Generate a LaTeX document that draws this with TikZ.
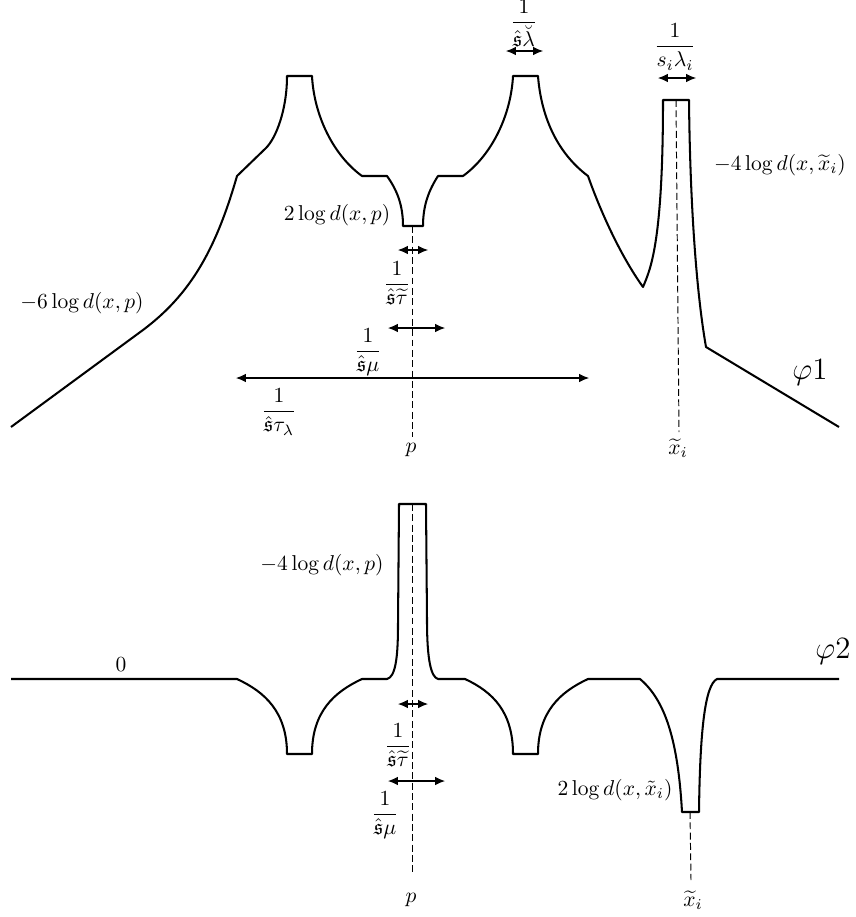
\documentclass[tikz,border=0pt]{standalone}
\usepackage{amsmath,amssymb}
\usetikzlibrary{arrows.meta}
\tikzset{
  curve/.style={line width=0.95pt, line join=round},
  dim/.style={line width=0.5pt, {Latex[length=4.6pt,width=4pt]}-{Latex[length=4.6pt,width=4pt]}},
  guide/.style={line width=0.45pt, dash pattern=on 3.2pt off 1.6pt},
  lab/.style={inner sep=0pt},
  big/.style={inner sep=0pt, font=\fontsize{15.6}{18}\selectfont}
}
\begin{document}
\begin{tikzpicture}[x=0.465pt,y=-0.465pt]
\useasboundingbox (0,0) rectangle (855,917);

% ---------- phi_1 ----------
\draw[curve] (11,427) -- (143,330)
 .. controls (191,294) and (216,249) .. (237,176)
 -- (266,148)
 .. controls (276,138) and (287,110) .. (287,76)
 -- (312,76)
 .. controls (314,115) and (333,155) .. (362,176)
 -- (387,176)
 .. controls (397,190) and (403,205) .. (403,226)
 -- (423,226)
 .. controls (423,205) and (429,190) .. (438,176)
 -- (463,176)
 .. controls (492,155) and (511,115) .. (513,76)
 -- (538,76)
 .. controls (541,115) and (556,152) .. (588,176)
 .. controls (600,210) and (620,255) .. (643,287)
 .. controls (650,270) and (663,245) .. (663,100)
 -- (689,100)
 .. controls (690,200) and (696,290) .. (706,347)
 -- (839,427);

\coordinate (p1top) at (412,226);
\coordinate (p1bot) at (412,437);
\coordinate (x1top) at (676,100);
\coordinate (x1bot) at (679,432);
\draw[guide] (p1top) -- (p1bot);
\draw[guide] (x1top) -- (x1bot);

\coordinate (a1l) at (398,250); \coordinate (a1r) at (428,250);
\coordinate (a2l) at (388,328); \coordinate (a2r) at (445,328);
\coordinate (a3l) at (236,378); \coordinate (a3r) at (589,378);
\coordinate (a4l) at (506,51);  \coordinate (a4r) at (543,51);
\coordinate (a5l) at (658,78);  \coordinate (a5r) at (696,78);
\draw[dim] (a1l) -- (a1r);
\draw[dim] (a2l) -- (a2r);
\draw[dim] (a3l) -- (a3r);
\draw[dim] (a4l) -- (a4r);
\draw[dim] (a5l) -- (a5r);

\node[lab] (l6) at (82,303) {$-6\log d(x,p)$};
\node[lab] (l2) at (337,215) {$2\log d(x,p)$};
\node[lab] (ftt) at (397,283) {$\dfrac{1}{\hat{\mathfrak{s}}\widetilde{\tau}}$};
\node[lab] (fmu) at (368,352) {$\dfrac{1}{\hat{\mathfrak{s}}\mu}$};
\node[lab] (ftl) at (279,412) {$\dfrac{1}{\hat{\mathfrak{s}}\tau_\lambda}$};
\node[lab] (p1) at (411,450) {$p$};
\node[lab] (flb) at (524,23) {$\dfrac{1}{\hat{\mathfrak{s}}\breve{\lambda}}$};
\node[lab] (fsl) at (675,47) {$\dfrac{1}{s_i\lambda_i}$};
\node[lab] (l4) at (780,165) {$-4\log d(x,\widetilde{x}_i)$};
\node[big] (phi1) at (810,373) {$\varphi1$};
\node[lab] (x1) at (678,448) {$\widetilde{x}_i$};

% ---------- phi_2 ----------
\draw[curve] (11,679) -- (237,679)
 .. controls (265,692) and (287,712) .. (287,754)
 -- (312,754)
 .. controls (312,712) and (334,692) .. (362,679)
 -- (387,679)
 .. controls (395,677) and (398,660) .. (398,625)
 -- (399,504)
 -- (426,504)
 -- (427,620)
 .. controls (427,660) and (431,677) .. (438,679)
 -- (465,679)
 .. controls (493,692) and (513,712) .. (513,754)
 -- (538,754)
 .. controls (538,712) and (560,692) .. (588,679)
 -- (640,679)
 .. controls (665,700) and (678,740) .. (682,812)
 -- (699,812)
 .. controls (700,730) and (705,685) .. (717,679)
 -- (839,679);

\coordinate (p2top) at (412,504);
\coordinate (p2bot) at (412,875);
\coordinate (x2top) at (690,812);
\coordinate (x2bot) at (691,880);
\draw[guide] (p2top) -- (p2bot);
\draw[guide] (x2top) -- (x2bot);

\coordinate (b1l) at (398,704); \coordinate (b1r) at (428,704);
\coordinate (b2l) at (388,781); \coordinate (b2r) at (445,781);
\draw[dim] (b1l) -- (b1r);
\draw[dim] (b2l) -- (b2r);

\node[lab] (zero) at (121,665) {$0$};
\node[lab] (m4) at (322,565) {$-4\log d(x,p)$};
\node[lab] (gtt) at (398,745) {$\dfrac{1}{\hat{\mathfrak{s}}\widetilde{\tau}}$};
\node[lab] (gmu) at (385,815) {$\dfrac{1}{\hat{\mathfrak{s}}\mu}$};
\node[lab] (p2) at (411,900) {$p$};
\node[lab] (l2x) at (615,790) {$2\log d(x,\tilde{x}_i)$};
\node[lab] (x2) at (693,900) {$\widetilde{x}_i$};
\node[big] (phi2) at (833,652) {$\varphi2$};
\end{tikzpicture}
\end{document}
